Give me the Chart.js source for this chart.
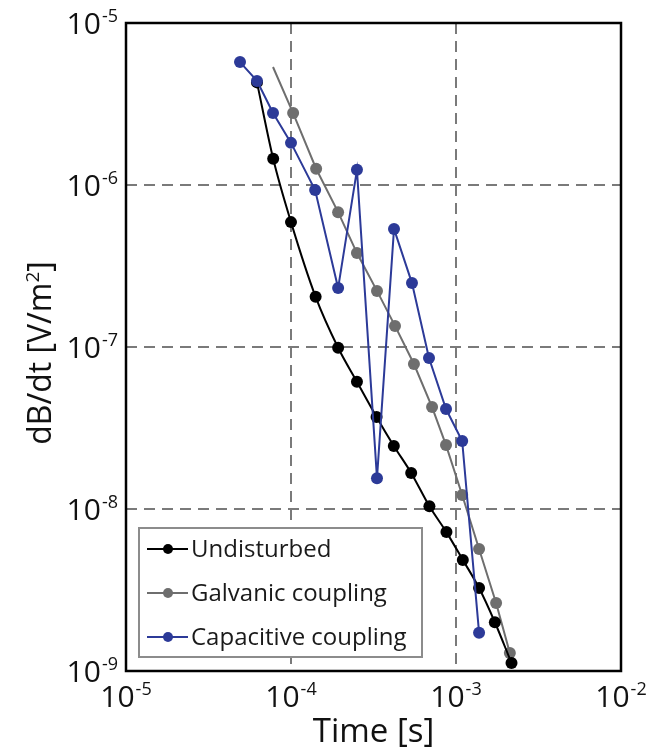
<!DOCTYPE html>
<html>
<head>
<meta charset="utf-8">
<script src="https://cdn.jsdelivr.net/npm/chart.js@4.4.1/dist/chart.umd.min.js"></script>
<style>
  html, body { margin: 0; padding: 0; background: #fff; }
  #wrap { width: 647px; height: 754px; }
</style>
</head>
<body>
<div id="wrap"><canvas id="dbdtChart"></canvas></div>
<script>
// axis decades and their exponents
const xTickValues = [1e-5, 1e-4, 1e-3, 1e-2];
const xTickExponents = ['-5', '-4', '-3', '-2'];
const yTickValues = [1e-9, 1e-8, 1e-7, 1e-6, 1e-5];
const yTickExponents = ['-9', '-8', '-7', '-6', '-5'];

// Undisturbed
const undisturbedTime = [6.22e-5, 7.8e-5, 1.0e-4, 1.41e-4, 1.93e-4, 2.51e-4, 3.3e-4, 4.2e-4, 5.35e-4, 6.9e-4, 8.75e-4, 1.1e-3, 1.38e-3, 1.72e-3, 2.17e-3];
const undisturbedValue = [4.3e-6, 1.45e-6, 5.9e-7, 2.04e-7, 9.9e-8, 6.1e-8, 3.7e-8, 2.45e-8, 1.67e-8, 1.04e-8, 7.2e-9, 4.85e-9, 3.25e-9, 2.0e-9, 1.12e-9];

// Galvanic coupling (first entry is where the line starts, no marker)
const galvanicTime = [7.78e-5, 1.03e-4, 1.42e-4, 1.93e-4, 2.51e-4, 3.32e-4, 4.27e-4, 5.56e-4, 7.16e-4, 8.7e-4, 1.09e-3, 1.38e-3, 1.75e-3, 2.12e-3];
const galvanicValue = [5.35e-6, 2.78e-6, 1.26e-6, 6.8e-7, 3.8e-7, 2.22e-7, 1.35e-7, 7.85e-8, 4.26e-8, 2.48e-8, 1.22e-8, 5.66e-9, 2.63e-9, 1.29e-9];

// Capacitive coupling
const capacitiveTime = [4.91e-5, 6.22e-5, 7.78e-5, 1.0e-4, 1.4e-4, 1.93e-4, 2.51e-4, 3.32e-4, 4.21e-4, 5.41e-4, 6.86e-4, 8.7e-4, 1.09e-3, 1.38e-3];
const capacitiveValue = [5.74e-6, 4.39e-6, 2.78e-6, 1.82e-6, 9.3e-7, 2.31e-7, 1.24e-6, 1.55e-8, 5.35e-7, 2.48e-7, 8.55e-8, 4.14e-8, 2.63e-8, 1.72e-9];

const FONT = "'Open Sans', 'DejaVu Sans', sans-serif";

function toPoints(xs, ys) {
    return xs.map((t, i) => ({ x: t, y: ys[i] }));
}

// "10" with a raised exponent
function drawPower(ctx, px, py, exp, align) {
    ctx.font = '30px ' + FONT;
    const wBase = ctx.measureText('10').width;
    ctx.font = '18px ' + FONT;
    const wExp = ctx.measureText(exp).width;
    const total = wBase + wExp + 1;
    let left = align === 'center' ? px - total / 2 : px - total;
    ctx.textAlign = 'left';
    ctx.textBaseline = 'alphabetic';
    ctx.fillStyle = '#111';
    ctx.font = '30px ' + FONT;
    ctx.fillText('10', left, py + 11);
    ctx.font = '18px ' + FONT;
    ctx.fillText(exp, left + wBase + 1, py - 1);
}

const frameAndLabels = {
    id: 'frameAndLabels',
    afterDraw(chart) {
        const { ctx, chartArea: a, scales: { x, y } } = chart;
        ctx.save();

        // plot frame
        ctx.strokeStyle = '#000';
        ctx.lineWidth = 2.5;
        ctx.strokeRect(a.left, a.top, a.right - a.left, a.bottom - a.top);

        // tick labels
        xTickValues.forEach((v, i) => drawPower(ctx, x.getPixelForValue(v), a.bottom + 25, xTickExponents[i], 'center'));
        yTickValues.forEach((v, i) => drawPower(ctx, a.left - 8, y.getPixelForValue(v), yTickExponents[i], 'right'));

        // axis titles
        ctx.fillStyle = '#111';
        ctx.font = '33px ' + FONT;
        ctx.textAlign = 'center';
        ctx.textBaseline = 'alphabetic';
        ctx.fillText('Time [s]', (a.left + a.right) / 2, 742);

        ctx.save();
        ctx.translate(51, (a.top + a.bottom) / 2 + 6);
        ctx.rotate(-Math.PI / 2);
        const partA = 'dB/dt [V/m';
        const partB = '2';
        const partC = ']';
        ctx.font = '32px ' + FONT;
        const wA = ctx.measureText(partA).width;
        const wC = ctx.measureText(partC).width;
        ctx.font = '19px ' + FONT;
        const wB = ctx.measureText(partB).width;
        let sx = -(wA + wB + wC) / 2;
        ctx.textAlign = 'left';
        ctx.font = '32px ' + FONT;
        ctx.fillText(partA, sx, 0);
        ctx.font = '19px ' + FONT;
        ctx.fillText(partB, sx + wA, -12);
        ctx.font = '32px ' + FONT;
        ctx.fillText(partC, sx + wA + wB, 0);
        ctx.restore();

        // legend box
        const lx = 139, ly = 528, lw = 283, lh = 129;
        ctx.fillStyle = '#fff';
        ctx.fillRect(lx, ly, lw, lh);
        ctx.strokeStyle = '#8c8c8c';
        ctx.lineWidth = 2;
        ctx.strokeRect(lx, ly, lw, lh);

        const entries = [0, 1, 2].map(i => chart.data.datasets.find(d => d.legendIndex === i));
        entries.forEach((ds, i) => {
            const rowY = 549 + i * 44;
            ctx.strokeStyle = ds.borderColor;
            ctx.lineWidth = 2;
            ctx.beginPath();
            ctx.moveTo(147, rowY);
            ctx.lineTo(188, rowY);
            ctx.stroke();
            ctx.fillStyle = ds.backgroundColor;
            ctx.beginPath();
            ctx.arc(168, rowY, 5, 0, Math.PI * 2);
            ctx.fill();
            ctx.fillStyle = '#1a1a1a';
            ctx.font = '24px ' + FONT;
            ctx.textAlign = 'left';
            ctx.textBaseline = 'middle';
            ctx.fillText(ds.label, 191, rowY + 1);
        });

        ctx.restore();
    }
};

const gridColor = (ctx) => {
    const v = ctx.tick && ctx.tick.value;
    return (ctx.index === 0 || v === undefined || ctx.index === ctx.scale.ticks.length - 1) ? 'rgba(0,0,0,0)' : '#7a7a7a';
};

new Chart(document.getElementById('dbdtChart'), {
    type: 'line',
    data: {
        datasets: [
            {
                label: 'Capacitive coupling',
                legendIndex: 2,
                order: 0,
                data: toPoints(capacitiveTime, capacitiveValue),
                borderColor: '#2c3a98',
                backgroundColor: '#2c3a98',
                borderWidth: 2,
                pointRadius: 6,
                pointBorderWidth: 0,
                tension: 0,
            },
            {
                label: 'Undisturbed',
                legendIndex: 0,
                order: 1,
                data: toPoints(undisturbedTime, undisturbedValue),
                borderColor: '#000',
                backgroundColor: '#000',
                borderWidth: 2,
                pointRadius: 6,
                pointBorderWidth: 0,
                cubicInterpolationMode: 'monotone',
            },
            {
                label: 'Galvanic coupling',
                legendIndex: 1,
                order: 2,
                data: toPoints(galvanicTime, galvanicValue),
                borderColor: '#6e6e6e',
                backgroundColor: '#6e6e6e',
                borderWidth: 2,
                pointRadius: (c) => (c.dataIndex === 0 ? 0 : 6),
                pointBorderWidth: 0,
                tension: 0,
            },
        ],
    },
    options: {
        responsive: true,
        maintainAspectRatio: false,
        animation: false,
        layout: { padding: { left: 126, right: 26, top: 23, bottom: 83 } },
        scales: {
            x: {
                type: 'logarithmic',
                min: 1e-5,
                max: 1e-2,
                afterBuildTicks: (scale) => { scale.ticks = xTickValues.map(v => ({ value: v })); },
                ticks: { display: false },
                grid: { color: gridColor, lineWidth: 2, drawTicks: false },
                border: { display: false, dash: [11, 7] },
            },
            y: {
                type: 'logarithmic',
                min: 1e-9,
                max: 1e-5,
                afterBuildTicks: (scale) => { scale.ticks = yTickValues.map(v => ({ value: v })); },
                ticks: { display: false },
                grid: { color: gridColor, lineWidth: 2, drawTicks: false },
                border: { display: false, dash: [11, 7] },
            },
        },
        plugins: {
            legend: { display: false },
            tooltip: { enabled: false },
        },
    },
    plugins: [frameAndLabels],
});
</script>
</body>
</html>
